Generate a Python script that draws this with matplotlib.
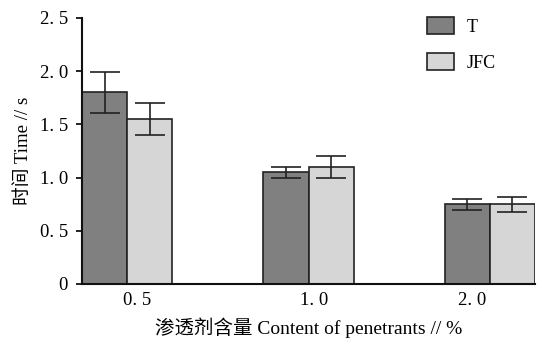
import numpy as np
import matplotlib.pyplot as plt
from matplotlib.patches import Patch

# data
categories = ['0. 5', '1. 0', '2. 0']
t_vals = [1.80, 1.05, 0.75]
t_err = [0.19, 0.05, 0.05]
jfc_vals = [1.55, 1.10, 0.75]
jfc_err = [0.15, 0.10, 0.07]
yticks = [0, 0.5, 1.0, 1.5, 2.0, 2.5]
ytick_labels = ['0', '0. 5', '1. 0', '1. 5', '2. 0', '2. 5']

fam = ['Liberation Serif', 'Noto Sans CJK SC']
plt.rcParams['font.family'] = fam

fig = plt.figure(figsize=(5.45, 3.42), dpi=100)
ax = fig.add_axes([82/545, 1-284/342, (535-82)/545, (284-18)/342])

x = np.arange(len(categories))
w = 0.249
ek = dict(ecolor='#222222', elinewidth=1.2, capsize=11, capthick=1.2)
ax.bar(x - w/2, t_vals, w, yerr=t_err, color='#808080', edgecolor='#222222',
       linewidth=1.2, error_kw=ek, label='T')
ax.bar(x + w/2, jfc_vals, w, yerr=jfc_err, color='#d6d6d6', edgecolor='#222222',
       linewidth=1.2, error_kw=ek, label='JFC')

ax.set_xlim(-w, len(categories) - 1 + w)
ax.set_ylim(0, 2.5)
ax.set_yticks(yticks)
ax.set_yticklabels(ytick_labels, fontsize=13.5)
ax.set_xticks(x + np.array([0.055, 0.03, -0.1]))
ax.set_xticklabels(categories, fontsize=13.5)
ax.tick_params(axis='x', length=0, pad=6)
ax.tick_params(axis='y', length=4, width=1.2, direction='out', pad=6)

for s in ['top', 'right']:
    ax.spines[s].set_visible(False)
for s in ['left', 'bottom']:
    ax.spines[s].set_linewidth(1.5)
    ax.spines[s].set_color('#111111')

ax.set_ylabel('时间 Time // s', fontsize=13.5, labelpad=6)
ax.set_xlabel('渗透剂含量 Content of penetrants // %', fontsize=14, labelpad=6)

handles = [Patch(facecolor='#808080', edgecolor='#222222', linewidth=1.2),
           Patch(facecolor='#d6d6d6', edgecolor='#222222', linewidth=1.2)]
fig.legend(handles, ['T', 'JFC'], loc='upper left',
           bbox_to_anchor=(427/545, 1-17/342), frameon=False, fontsize=13,
           handlelength=1.5, handleheight=1.1, labelspacing=0.95,
           handletextpad=0.7, borderpad=0, borderaxespad=0)

plt.savefig('out.png', dpi=100)
